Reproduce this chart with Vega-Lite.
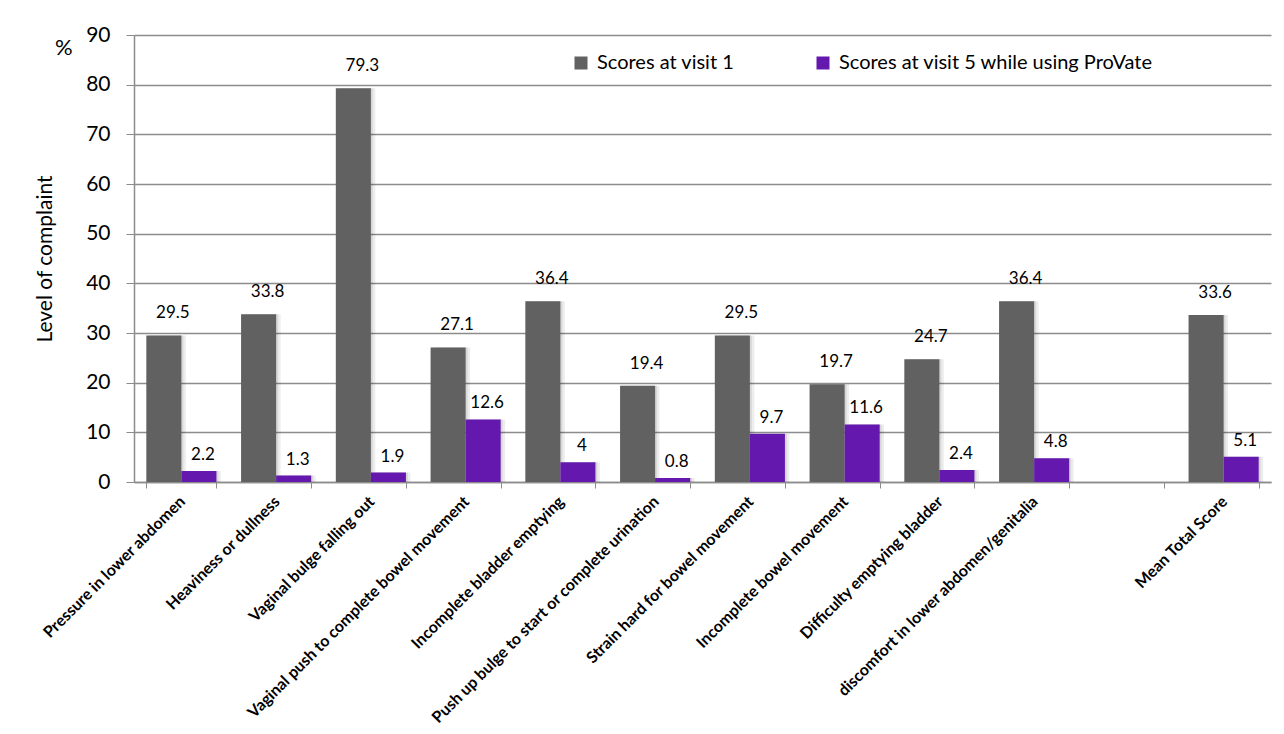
{
  "$schema": "https://vega.github.io/schema/vega-lite/v6.json",
  "width": 1137,
  "height": 447,
  "autosize": {"type": "none"},
  "padding": {"left": 134, "top": 35, "right": 13, "bottom": 252},
  "background": "#ffffff",
  "config": {
    "font": "Lato",
    "view": {"stroke": null},
    "axis": {"domainColor": "#8c8c8c", "tickColor": "#8c8c8c", "gridColor": "#8c8c8c"}
  },
  "title": {
    "text": "%",
    "anchor": "start",
    "frame": "group",
    "orient": "top",
    "offset": 0,
    "dx": -79,
    "dy": 46,
    "baseline": "middle",
    "fontSize": 22,
    "fontWeight": "normal",
    "color": "#000000"
  },
  "data": {
    "values": [
      {"complaint": "Pressure in lower abdomen", "series": "Scores at visit 1", "value": 29.5},
      {"complaint": "Pressure in lower abdomen", "series": "Scores at visit 5 while using ProVate", "value": 2.2},
      {"complaint": "Heaviness or dullness", "series": "Scores at visit 1", "value": 33.8},
      {"complaint": "Heaviness or dullness", "series": "Scores at visit 5 while using ProVate", "value": 1.3},
      {"complaint": "Vaginal bulge falling out", "series": "Scores at visit 1", "value": 79.3},
      {"complaint": "Vaginal bulge falling out", "series": "Scores at visit 5 while using ProVate", "value": 1.9},
      {"complaint": "Vaginal push to complete bowel movement", "series": "Scores at visit 1", "value": 27.1},
      {"complaint": "Vaginal push to complete bowel movement", "series": "Scores at visit 5 while using ProVate", "value": 12.6},
      {"complaint": "Incomplete bladder emptying", "series": "Scores at visit 1", "value": 36.4},
      {"complaint": "Incomplete bladder emptying", "series": "Scores at visit 5 while using ProVate", "value": 4},
      {"complaint": "Push up bulge to start or complete urination", "series": "Scores at visit 1", "value": 19.4},
      {"complaint": "Push up bulge to start or complete urination", "series": "Scores at visit 5 while using ProVate", "value": 0.8},
      {"complaint": "Strain hard for bowel movement", "series": "Scores at visit 1", "value": 29.5},
      {"complaint": "Strain hard for bowel movement", "series": "Scores at visit 5 while using ProVate", "value": 9.7},
      {"complaint": "Incomplete bowel movement", "series": "Scores at visit 1", "value": 19.7},
      {"complaint": "Incomplete bowel movement", "series": "Scores at visit 5 while using ProVate", "value": 11.6},
      {"complaint": "Difficulty emptying bladder", "series": "Scores at visit 1", "value": 24.7},
      {"complaint": "Difficulty emptying bladder", "series": "Scores at visit 5 while using ProVate", "value": 2.4},
      {"complaint": "discomfort in lower abdomen/genitalia", "series": "Scores at visit 1", "value": 36.4},
      {"complaint": "discomfort in lower abdomen/genitalia", "series": "Scores at visit 5 while using ProVate", "value": 4.8},
      {"complaint": "Mean Total Score", "series": "Scores at visit 1", "value": 33.6},
      {"complaint": "Mean Total Score", "series": "Scores at visit 5 while using ProVate", "value": 5.1}
    ]
  },
  "encoding": {
    "x": {
      "field": "complaint",
      "type": "nominal",
      "scale": {
        "domain": [
          "Pressure in lower abdomen",
          "Heaviness or dullness",
          "Vaginal bulge falling out",
          "Vaginal push to complete bowel movement",
          "Incomplete bladder emptying",
          "Push up bulge to start or complete urination",
          "Strain hard for bowel movement",
          "Incomplete bowel movement",
          "Difficulty emptying bladder",
          "discomfort in lower abdomen/genitalia",
          " ",
          "Mean Total Score"
        ],
        "paddingInner": 0.26,
        "paddingOuter": 0.13
      },
      "axis": {
        "title": null,
        "labelAngle": -45,
        "labelFontSize": 16,
        "labelFontWeight": "bold",
        "labelColor": "#000000",
        "labelPadding": 5,
        "labelLimit": 400,
        "labelOffset": -5,
        "tickBand": "extent",
        "tickSize": 6,
        "domainWidth": 1.5
      }
    },
    "xOffset": {
      "field": "series",
      "type": "nominal",
      "scale": {"type": "band", "domain": ["Scores at visit 1", "Scores at visit 5 while using ProVate"], "paddingInner": 0, "paddingOuter": 0}
    },
    "y": {
      "field": "value",
      "type": "quantitative",
      "scale": {"domain": [0, 90], "nice": false},
      "axis": {
        "title": "Level of complaint",
        "titleFontSize": 21,
        "titleFontWeight": "normal",
        "titleColor": "#000000",
        "titlePadding": 30,
        "values": [0, 10, 20, 30, 40, 50, 60, 70, 80, 90],
        "labelFontSize": 21,
        "labelColor": "#000000",
        "labelPadding": 16,
        "tickSize": 8,
        "gridWidth": 1.5,
        "domainWidth": 1.5
      }
    }
  },
  "resolve": {"scale": {"xOffset": "independent"}},
  "layer": [
    {
      "mark": {"type": "bar", "color": "#000000", "opacity": 0.07},
      "encoding": {
        "xOffset": {
          "field": "series",
          "type": "nominal",
          "scale": {"type": "band", "domain": ["Scores at visit 1", "Scores at visit 5 while using ProVate"], "range": [4.5, 74.6], "paddingInner": 0, "paddingOuter": 0}
        }
      }
    },
    {
      "mark": {"type": "bar", "color": "#000000", "opacity": 0.09},
      "encoding": {
        "xOffset": {
          "field": "series",
          "type": "nominal",
          "scale": {"type": "band", "domain": ["Scores at visit 1", "Scores at visit 5 while using ProVate"], "range": [2, 72.1], "paddingInner": 0, "paddingOuter": 0}
        }
      }
    },
    {
      "mark": {"type": "bar"},
      "encoding": {
        "color": {
          "field": "series",
          "type": "nominal",
          "scale": {"domain": ["Scores at visit 1", "Scores at visit 5 while using ProVate"], "range": ["#616161", "#6418ae"]},
          "legend": {
            "title": null,
            "orient": "none",
            "direction": "horizontal",
            "legendX": 437,
            "legendY": 18,
            "symbolType": "square",
            "symbolSize": 169,
            "symbolStrokeWidth": 0,
            "labelFontSize": 20,
            "labelColor": "#000000",
            "labelLimit": 500,
            "labelOffset": 6,
            "columnPadding": 78,
            "symbolOffset": 0
          }
        }
      }
    },
    {
      "transform": [{"filter": "datum.series === 'Scores at visit 1'"}],
      "mark": {"type": "text", "fontSize": 17, "color": "#000000", "baseline": "middle", "dx": 9, "dy": -22},
      "encoding": {"text": {"field": "value", "type": "quantitative"}}
    },
    {
      "transform": [{"filter": "datum.series !== 'Scores at visit 1'"}],
      "mark": {"type": "text", "fontSize": 17, "color": "#000000", "baseline": "middle", "dx": 4, "dy": -16},
      "encoding": {"text": {"field": "value", "type": "quantitative"}}
    }
  ]
}
